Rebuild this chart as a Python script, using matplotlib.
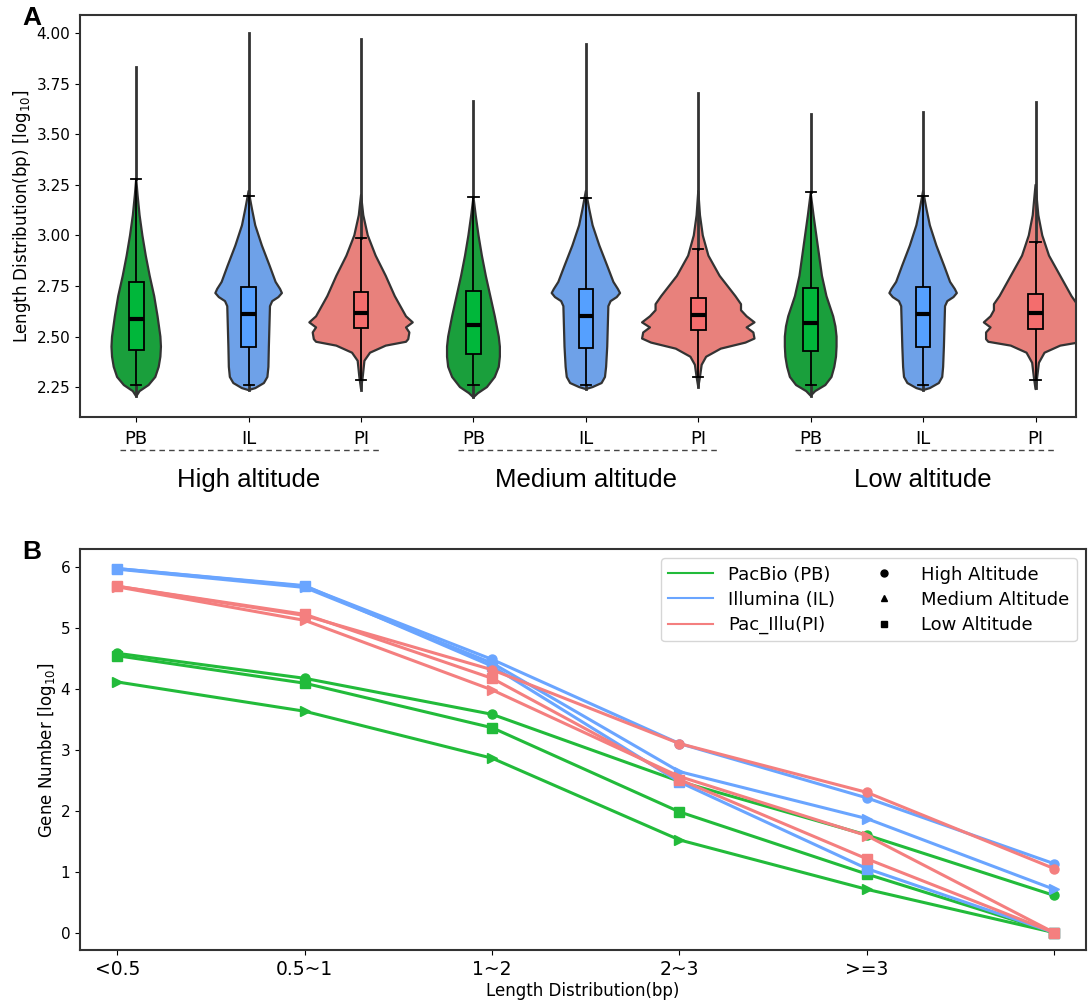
import matplotlib
matplotlib.use("Agg")
import matplotlib.pyplot as plt
from matplotlib.lines import Line2D
from matplotlib.patches import Rectangle
import numpy as np

plt.rcParams['font.family'] = ['DejaVu Sans']

# ---------------- panel A: violin + box summaries ----------------
techs = ['PB', 'IL', 'PI']
altitudes = ['High altitude', 'Medium altitude', 'Low altitude']

# box statistics, order: High PB/IL/PI, Medium PB/IL/PI, Low PB/IL/PI
q1 = [2.433, 2.446, 2.541, 2.416, 2.441, 2.533, 2.428, 2.446, 2.536]
median = [2.589, 2.610, 2.618, 2.558, 2.600, 2.605, 2.569, 2.610, 2.617]
q3 = [2.770, 2.747, 2.720, 2.725, 2.737, 2.692, 2.740, 2.747, 2.711]
whisker_lo = [2.260, 2.260, 2.284, 2.260, 2.260, 2.301, 2.260, 2.260, 2.284]
whisker_hi = [3.280, 3.197, 2.985, 3.191, 3.184, 2.931, 3.214, 3.196, 2.969]
value_max = [3.832, 4.003, 3.972, 3.663, 3.946, 3.704, 3.600, 3.609, 3.661]
value_min = [2.204, 2.237, 2.237, 2.199, 2.240, 2.248, 2.207, 2.237, 2.243]

# violin outlines: (length, half width)
pb_high_y = [2.204, 2.23, 2.26, 2.30, 2.35, 2.40, 2.45, 2.50, 2.60, 2.70, 2.80, 2.90, 3.00, 3.10, 3.20, 3.28]
pb_high_w = [0, 0.03, 0.11, 0.17, 0.20, 0.215, 0.22, 0.215, 0.19, 0.16, 0.12, 0.085, 0.055, 0.03, 0.012, 0]
pb_med_y = [2.199, 2.22, 2.25, 2.30, 2.35, 2.40, 2.45, 2.50, 2.60, 2.70, 2.80, 2.90, 3.00, 3.10, 3.19]
pb_med_w = [0, 0.04, 0.12, 0.19, 0.225, 0.235, 0.235, 0.225, 0.19, 0.15, 0.11, 0.075, 0.045, 0.02, 0]
pb_low_y = [2.207, 2.23, 2.26, 2.30, 2.35, 2.40, 2.45, 2.50, 2.55, 2.60, 2.70, 2.80, 2.90, 3.00, 3.10, 3.21]
pb_low_w = [0, 0.04, 0.13, 0.185, 0.21, 0.225, 0.23, 0.23, 0.22, 0.20, 0.14, 0.10, 0.075, 0.05, 0.025, 0]

il_high_y = [2.235, 2.245, 2.27, 2.30, 2.35, 2.45, 2.55, 2.65, 2.675, 2.695, 2.715, 2.735, 2.77, 2.85, 2.95, 3.05, 3.13, 3.22]
il_high_w = [0, 0.06, 0.136, 0.167, 0.176, 0.18, 0.185, 0.19, 0.21, 0.265, 0.296, 0.28, 0.24, 0.187, 0.118, 0.059, 0.03, 0]
il_med_y = [2.24, 2.25, 2.27, 2.30, 2.35, 2.45, 2.55, 2.65, 2.675, 2.695, 2.715, 2.735, 2.77, 2.85, 2.95, 3.05, 3.13, 3.22]
il_med_w = [0, 0.06, 0.14, 0.17, 0.18, 0.19, 0.195, 0.2, 0.22, 0.275, 0.304, 0.285, 0.245, 0.19, 0.12, 0.06, 0.03, 0]
il_low_y = [2.235, 2.245, 2.27, 2.30, 2.35, 2.45, 2.55, 2.65, 2.675, 2.695, 2.715, 2.735, 2.77, 2.85, 2.95, 3.05, 3.13, 3.22]
il_low_w = [0, 0.06, 0.14, 0.17, 0.178, 0.185, 0.19, 0.195, 0.215, 0.27, 0.30, 0.282, 0.24, 0.187, 0.118, 0.06, 0.03, 0]

pi_high_y = [2.24, 2.30, 2.38, 2.42, 2.455, 2.474, 2.487, 2.52, 2.545, 2.57, 2.60, 2.63, 2.65, 2.70, 2.80, 2.90, 3.00, 3.10, 3.20]
pi_high_w = [0, 0.015, 0.03, 0.08, 0.22, 0.40, 0.42, 0.43, 0.40, 0.46, 0.40, 0.37, 0.35, 0.30, 0.22, 0.13, 0.06, 0.02, 0]
pi_med_y = [2.25, 2.30, 2.36, 2.40, 2.44, 2.47, 2.49, 2.52, 2.545, 2.57, 2.60, 2.63, 2.66, 2.70, 2.80, 2.90, 3.00, 3.10, 3.22]
pi_med_w = [0, 0.015, 0.03, 0.07, 0.20, 0.42, 0.50, 0.49, 0.43, 0.50, 0.43, 0.38, 0.38, 0.33, 0.19, 0.09, 0.04, 0.015, 0]
pi_low_y = [2.24, 2.30, 2.37, 2.42, 2.455, 2.474, 2.487, 2.52, 2.545, 2.57, 2.60, 2.63, 2.66, 2.70, 2.80, 2.90, 3.00, 3.10, 3.25]
pi_low_w = [0, 0.015, 0.03, 0.08, 0.22, 0.42, 0.44, 0.44, 0.40, 0.46, 0.40, 0.37, 0.37, 0.32, 0.22, 0.12, 0.06, 0.025, 0]

profiles = [(pb_high_y, pb_high_w), (il_high_y, il_high_w), (pi_high_y, pi_high_w),
            (pb_med_y, pb_med_w), (il_med_y, il_med_w), (pi_med_y, pi_med_w),
            (pb_low_y, pb_low_w), (il_low_y, il_low_w), (pi_low_y, pi_low_w)]

violin_colors = {'PB': '#1a9f3c', 'IL': '#6ea1e8', 'PI': '#e8817c'}
box_colors = {'PB': '#00b73a', 'IL': '#55a0ff', 'PI': '#f46d6d'}

# ---------------- panel B: gene counts per length bin ----------------
length_bins = ['<0.5', '0.5~1', '1~2', '2~3', '>=3', '']
pb_high = [4.58, 4.17, 3.58, 2.48, 1.60, 0.61]
pb_med = [4.11, 3.63, 2.86, 1.52, 0.71, 0]
pb_low = [4.54, 4.09, 3.36, 1.98, 0.96, 0]
il_high = [5.97, 5.68, 4.48, 3.10, 2.21, 1.13]
il_med = [5.96, 5.66, 4.42, 2.64, 1.87, 0.71]
il_low = [5.97, 5.69, 4.37, 2.47, 1.05, 0]
pi_high = [5.68, 5.20, 4.31, 3.10, 2.30, 1.05]
pi_med = [5.67, 5.12, 3.98, 2.56, 1.59, 0]
pi_low = [5.68, 5.22, 4.17, 2.51, 1.21, 0]

line_colors = {'PB': '#22bb3a', 'IL': '#6aa5ff', 'PI': '#f47f7f'}
series = [('PB', pb_high, 'o'), ('PB', pb_med, '>'), ('PB', pb_low, 's'),
          ('IL', il_high, 'o'), ('IL', il_med, '>'), ('IL', il_low, 's'),
          ('PI', pi_high, 'o'), ('PI', pi_med, '>'), ('PI', pi_low, 's')]

fig = plt.figure(figsize=(10.9, 10.08), dpi=100)
W, H = 1090.0, 1008.0

# ---- panel A ----
axA = fig.add_axes([80 / W, 1 - 417 / H, 996 / W, 402 / H])
box_w = 0.13
cap_w = 0.045
for i in range(9):
    t = techs[i % 3]
    ys, ws = np.array(profiles[i][0]), np.array(profiles[i][1])
    xs = np.concatenate([i - ws, (i + ws)[::-1]])
    yy = np.concatenate([ys, ys[::-1]])
    axA.fill(xs, yy, facecolor=violin_colors[t], edgecolor='#333333', lw=1.6,
             joinstyle='round', zorder=1)
    # long tails of extreme values
    axA.plot([i, i], [whisker_hi[i], value_max[i]], color='#333333', lw=2.0, zorder=2)
    axA.plot([i, i], [value_min[i], whisker_lo[i]], color='#333333', lw=2.0, zorder=2)
    # whiskers and caps
    axA.plot([i, i], [whisker_lo[i], q1[i]], color='black', lw=1.3, zorder=3)
    axA.plot([i, i], [q3[i], whisker_hi[i]], color='black', lw=1.3, zorder=3)
    for v in (whisker_lo[i], whisker_hi[i]):
        axA.plot([i - cap_w, i + cap_w], [v, v], color='black', lw=1.3, zorder=3)
    axA.add_patch(Rectangle((i - box_w / 2, q1[i]), box_w, q3[i] - q1[i],
                            facecolor=box_colors[t], edgecolor='black', lw=1.3, zorder=4))
    axA.plot([i - box_w / 2, i + box_w / 2], [median[i], median[i]], color='black',
             lw=3, solid_capstyle='butt', zorder=5)

axA.set_xlim(-0.5, 8.36)
axA.set_ylim(2.102, 4.09)
axA.set_yticks([2.25, 2.50, 2.75, 3.00, 3.25, 3.50, 3.75, 4.00])
axA.set_yticklabels(['%.2f' % v for v in [2.25, 2.50, 2.75, 3.00, 3.25, 3.50, 3.75, 4.00]], fontsize=11)
axA.set_xticks(range(9))
axA.set_xticklabels(techs * 3, fontsize=13)
axA.tick_params(axis='x', pad=6)
axA.set_ylabel('Length Distribution(bp) [log$_{10}$]', fontsize=12)
axA.yaxis.set_label_coords(-0.047, 0.5)
for sp in axA.spines.values():
    sp.set_color('#333333')
    sp.set_linewidth(1.5)

trans = axA.get_xaxis_transform()
for g, name in enumerate(altitudes):
    axA.plot([g * 3 - 0.14, g * 3 + 2.17], [-0.082, -0.082], transform=trans, clip_on=False,
             color='#444444', lw=1.0, ls=(0, (4, 3)))
    axA.text(g * 3 + 1.0, -0.157, name, transform=trans, ha='center', va='center',
             fontsize=18.5, family='Liberation Sans')

# ---- panel B ----
axB = fig.add_axes([80 / W, 1 - 950.3 / H, 1006 / W, 401 / H])
xpos = np.arange(len(length_bins))
for t, vals, mk in series:
    axB.plot(xpos, vals, color=line_colors[t], marker=mk, lw=2.2, ms=6.5)
axB.set_xlim(-0.2, 5.17)
axB.set_ylim(-0.29, 6.286)
axB.set_xticks(xpos)
axB.set_xticklabels(length_bins, fontsize=13.5)
axB.set_yticks(range(7))
axB.tick_params(axis='y', labelsize=11)
axB.set_xlabel('Length Distribution(bp)', fontsize=12, labelpad=2)
axB.set_ylabel('Gene Number [log$_{10}$]', fontsize=12)
axB.yaxis.set_label_coords(-0.022, 0.5)
for sp in axB.spines.values():
    sp.set_color('#333333')
    sp.set_linewidth(1.5)

handles = [Line2D([], [], color=line_colors['PB'], lw=1.5),
           Line2D([], [], color=line_colors['IL'], lw=1.5),
           Line2D([], [], color=line_colors['PI'], lw=1.5),
           Line2D([], [], color='black', marker='o', ls='none', ms=5),
           Line2D([], [], color='black', marker='^', ls='none', ms=5),
           Line2D([], [], color='black', marker='s', ls='none', ms=5)]
labels = ['PacBio (PB)', 'Illumina (IL)', 'Pac_Illu(PI)',
          'High Altitude', 'Medium Altitude', 'Low Altitude']
axB.legend(handles, labels, ncol=2, loc='upper right', fontsize=13,
           handlelength=2.5, columnspacing=1.5, labelspacing=0.4,
           borderaxespad=0.5, fancybox=True)

fig.text(22 / W, 1 - 6 / H, 'A', fontsize=19, fontweight='bold', family='Liberation Sans',
         ha='left', va='top')
fig.text(22 / W, 1 - 540 / H, 'B', fontsize=19, fontweight='bold', family='Liberation Sans',
         ha='left', va='top')

fig.savefig('out.png', dpi=100)
